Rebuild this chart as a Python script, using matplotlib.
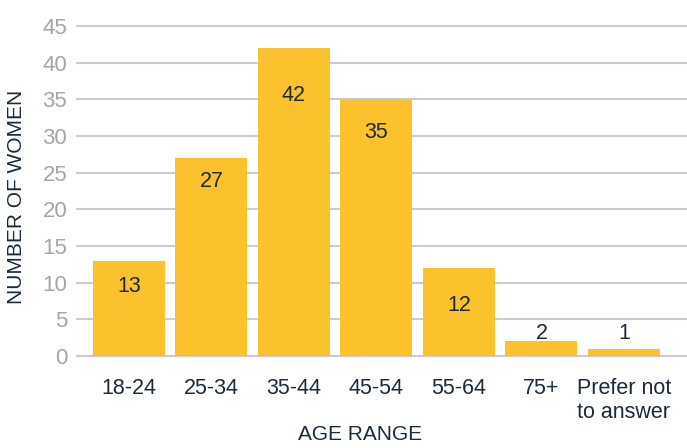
import matplotlib.pyplot as plt
import numpy as np

# data
age_ranges = ['18-24', '25-34', '35-44', '45-54', '55-64', '75+', 'Prefer not\nto answer']
num_women = [13, 27, 42, 35, 12, 2, 1]
y_ticks = [0, 5, 10, 15, 20, 25, 30, 35, 40, 45]

# label offsets from bar top (points)
label_offsets = [-18.5, -17, -34, -24, -27, 5.8, 11]

plt.rcParams['font.family'] = ['Liberation Sans', 'DejaVu Sans']
dark = '#1C2B39'
bar_color = '#FCC22D'

fig = plt.figure(figsize=(6.87, 4.48), dpi=100)
ax = fig.add_axes([77 / 687, 92 / 448, 610 / 687, 330 / 448])

x = np.arange(len(age_ranges))
ax.bar(x, num_women, width=0.873, color=bar_color, zorder=2)

for xi, v, off in zip(x, num_women, label_offsets):
    ax.annotate(str(v), (xi, v), xytext=(0, off), textcoords='offset points',
                ha='center', va='center', fontsize=15.5, color=dark)

ax.set_xlim(-0.630, 6.764)
ax.set_ylim(0, 45)
ax.set_yticks(y_ticks)
ax.set_xticks(x)
ax.set_xticklabels(age_ranges)
for lbl in ax.get_xticklabels():
    lbl.set_multialignment('left')
ax.tick_params(axis='y', length=0, pad=7, labelsize=16, labelcolor='#A6A6A6')
ax.tick_params(axis='x', length=0, pad=16, labelsize=15.5, labelcolor=dark)

ax.grid(axis='y', color='#CBCBD0', linewidth=1.5, zorder=0)
for line in ax.get_ygridlines():
    line.set_clip_on(False)
for s in ax.spines.values():
    s.set_visible(False)

ax.set_xlabel('AGE RANGE', fontsize=15, color=dark)
ax.xaxis.set_label_coords(0.464, -0.21)
ax.set_ylabel('NUMBER OF WOMEN', fontsize=15, color=dark)
ax.yaxis.set_label_coords(-0.083, 0.482)

fig.savefig('out.png', dpi=100)
